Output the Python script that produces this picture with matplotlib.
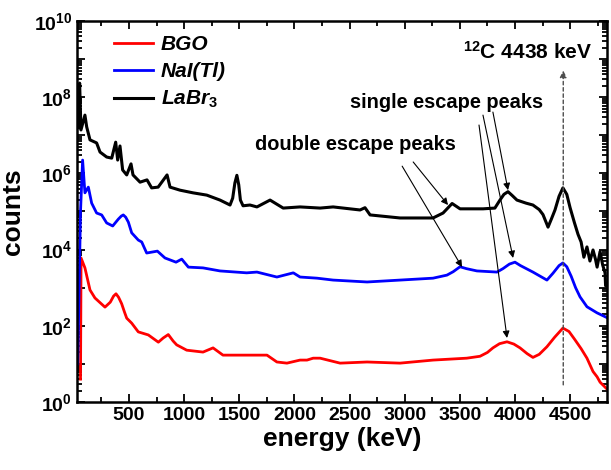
import numpy as np
import matplotlib
matplotlib.use('Agg')
import matplotlib.pyplot as plt
from matplotlib.ticker import MultipleLocator, LogLocator, FuncFormatter, NullFormatter

plt.rcParams['font.family'] = ['Liberation Sans', 'DejaVu Sans']
plt.rcParams['mathtext.fontset'] = 'custom'
plt.rcParams['mathtext.rm'] = 'Liberation Sans:bold'
plt.rcParams['mathtext.bf'] = 'Liberation Sans:bold'
plt.rcParams['mathtext.it'] = 'Liberation Sans:bold:italic'

# ---------------------------------------------------------------
# spectra: energy (keV) and log10(counts)
bgo_e = [60, 65, 100, 146, 191, 240, 282, 330, 360, 382, 405, 433, 460, 479,
         524, 584, 675, 766, 810, 856, 900, 932, 1023, 1171, 1262, 1352, 1534,
         1751, 1841, 1932, 2051, 2114, 2170, 2233, 2414, 2659, 2958, 3257,
         3563, 3683, 3750, 3800, 3860, 3928, 3990, 4046, 4110, 4163, 4220,
         4290, 4360, 4435, 4490, 4540, 4600, 4653, 4708, 4745, 4772, 4817,
         4845]
bgo_log = [0.6, 3.78, 3.52, 2.94, 2.73, 2.6, 2.49, 2.62, 2.78, 2.84, 2.75,
           2.58, 2.35, 2.2, 2.07, 1.84, 1.76, 1.57, 1.68, 1.77, 1.6, 1.5,
           1.36, 1.31, 1.42, 1.23, 1.23, 1.23, 1.05, 1.02, 1.1, 1.1, 1.15,
           1.15, 1.02, 1.05, 1.02, 1.1, 1.15, 1.2, 1.3, 1.42, 1.53, 1.58,
           1.52, 1.42, 1.27, 1.17, 1.25, 1.45, 1.7, 1.94, 1.85, 1.65, 1.4,
           1.15, 0.8, 0.66, 0.52, 0.39, 0.31]

nai_e = [35, 60, 79, 100, 131, 161, 206, 252, 297, 352, 403, 430, 448, 470,
         494, 524, 584, 615, 660, 757, 826, 926, 978, 1038, 1171, 1325, 1567,
         1660, 1841, 1990, 2051, 2205, 2351, 2659, 2958, 3257, 3383, 3440,
         3502, 3560, 3655, 3837, 3891, 3950, 4000, 4050, 4163, 4290, 4345,
         4400, 4435, 4470, 4510, 4550, 4590, 4653, 4744, 4845]
nai_log = [1.0, 5.0, 6.35, 5.49, 5.64, 5.22, 4.96, 4.91, 4.7, 4.62, 4.8, 4.88,
           4.91, 4.85, 4.72, 4.44, 4.25, 4.2, 3.91, 3.96, 3.78, 3.67, 3.75,
           3.54, 3.52, 3.44, 3.39, 3.41, 3.28, 3.39, 3.28, 3.25, 3.2, 3.15,
           3.2, 3.25, 3.33, 3.42, 3.55, 3.5, 3.44, 3.41, 3.5, 3.62, 3.67,
           3.58, 3.41, 3.2, 3.38, 3.58, 3.65, 3.55, 3.3, 3.0, 2.76, 2.5, 2.34,
           2.2]

labr_e = [40, 52, 64, 100, 116, 146, 206, 237, 297, 343, 379, 397, 418, 442,
          479, 518, 536, 600, 663, 705, 764, 845, 872, 962, 1080, 1205, 1325,
          1416, 1440, 1460, 1478, 1495, 1510, 1534, 1597, 1660, 1779, 1898,
          2051, 2233, 2351, 2595, 2640, 2686, 2958, 3257, 3348, 3430, 3502,
          3711, 3818, 3864, 3900, 3937, 3975, 4018, 4100, 4163, 4220, 4254,
          4300, 4330, 4363, 4400, 4435, 4470, 4500, 4540, 4572, 4600, 4625,
          4653, 4680, 4708, 4730, 4745, 4772, 4795, 4817, 4822, 4845]
labr_log = [7.2, 8.37, 7.14, 7.53, 7.22, 6.88, 6.8, 6.56, 6.43, 6.4, 6.82,
            6.35, 6.72, 6.09, 5.96, 6.25, 5.96, 5.77, 5.83, 5.62, 5.64, 5.96,
            5.64, 5.56, 5.49, 5.43, 5.3, 5.17, 5.35, 5.75, 5.95, 5.7, 5.3,
            5.15, 5.17, 5.12, 5.3, 5.09, 5.12, 5.09, 5.12, 5.04, 5.1, 4.91,
            4.83, 4.83, 4.96, 5.21, 5.07, 5.07, 5.09, 5.3, 5.45, 5.52, 5.42,
            5.3, 5.22, 5.17, 5.05, 4.92, 4.59, 4.8, 5.04, 5.4, 5.62, 5.45,
            5.1, 4.7, 4.4, 4.2, 3.8, 4.07, 3.7, 3.99, 3.75, 3.54, 3.95, 3.6,
            3.39, 3.05, 3.05]

labels = ['BGO', 'NaI(Tl)', r'LaBr$_\mathit{3}$']
colors = ['#ff0000', '#0000ff', '#000000']

# ---------------------------------------------------------------
fig = plt.figure(figsize=(6.11, 4.70), dpi=100)
ax = fig.add_axes([0.126, 0.1447, 0.8675, 0.8106])

ax.plot(bgo_e, 10**np.array(bgo_log), color=colors[0], lw=2.0, label=labels[0])
ax.plot(nai_e, 10**np.array(nai_log), color=colors[1], lw=2.0, label=labels[1])
ax.plot(labr_e, 10**np.array(labr_log), color=colors[2], lw=2.2, label=labels[2])

ax.set_yscale('log')
ax.set_xlim(28, 4835)
ax.set_ylim(1, 1e10)

ax.xaxis.set_major_locator(MultipleLocator(500))
ax.xaxis.set_minor_locator(MultipleLocator(250))
ax.set_xticks(np.arange(500, 4501, 500))
ax.yaxis.set_major_locator(LogLocator(base=10, numticks=20))
ax.yaxis.set_minor_locator(LogLocator(base=10, subs=np.arange(2, 10), numticks=20))
ax.yaxis.set_minor_formatter(NullFormatter())

def ylab(v, pos):
    p = int(round(np.log10(v)))
    if p % 2:
        return ''
    return r'$\mathbf{10^{%d}}$' % p
ax.yaxis.set_major_formatter(FuncFormatter(ylab))

ax.tick_params(which='both', direction='in', top=True, right=True, width=1.3)
ax.tick_params(which='major', length=6, labelsize=14)
ax.tick_params(which='minor', length=3.5)
for lab in ax.get_xticklabels():
    lab.set_fontweight('bold')
for s in ax.spines.values():
    s.set_linewidth(1.8)

ax.set_xlabel('energy (keV)', fontsize=19, fontweight='bold', labelpad=2)
ax.set_ylabel('counts', fontsize=19, fontweight='bold', labelpad=6)

leg = ax.legend(loc='upper left', bbox_to_anchor=(0.034, 1.012), frameon=False,
                handlelength=1.9, handletextpad=0.35, labelspacing=0.38,
                prop={'size': 15, 'weight': 'bold', 'style': 'italic'})

# ---------------------------------------------------------------
# annotations
ax.text(0.728, 0.919, r'$\mathbf{^{12}}$C 4438 keV', transform=ax.transAxes,
        fontsize=15, fontweight='bold', ha='left', va='center')
ax.text(0.515, 0.785, 'single escape peaks', transform=ax.transAxes,
        fontsize=14.4, fontweight='bold', ha='left', va='center')
ax.text(0.336, 0.675, 'double escape peaks', transform=ax.transAxes,
        fontsize=14.4, fontweight='bold', ha='left', va='center')

arw = dict(arrowstyle='-|>', color='black', lw=0.8, mutation_scale=10,
           shrinkA=0, shrinkB=0)
ax.annotate('', xy=(3393, 10**5.17), xytext=(3077, 10**6.3), arrowprops=arw)
ax.annotate('', xy=(3520, 10**3.54), xytext=(2977, 10**6.19), arrowprops=arw)
ax.annotate('', xy=(3937, 10**5.56), xytext=(3800, 10**7.61), arrowprops=arw)
ax.annotate('', xy=(3983, 10**3.78), xytext=(3710, 10**7.53), arrowprops=arw)
ax.annotate('', xy=(3928, 10**1.68), xytext=(3674, 10**7.27), arrowprops=arw)

ax.annotate('', xy=(4438, 10**8.7), xytext=(4438, 10**0.45),
            arrowprops=dict(arrowstyle='-|>', color='0.3', lw=1.0,
                            linestyle=(0, (2.5, 2)), mutation_scale=10,
                            shrinkA=0, shrinkB=0))

fig.savefig('out.png', dpi=100)
